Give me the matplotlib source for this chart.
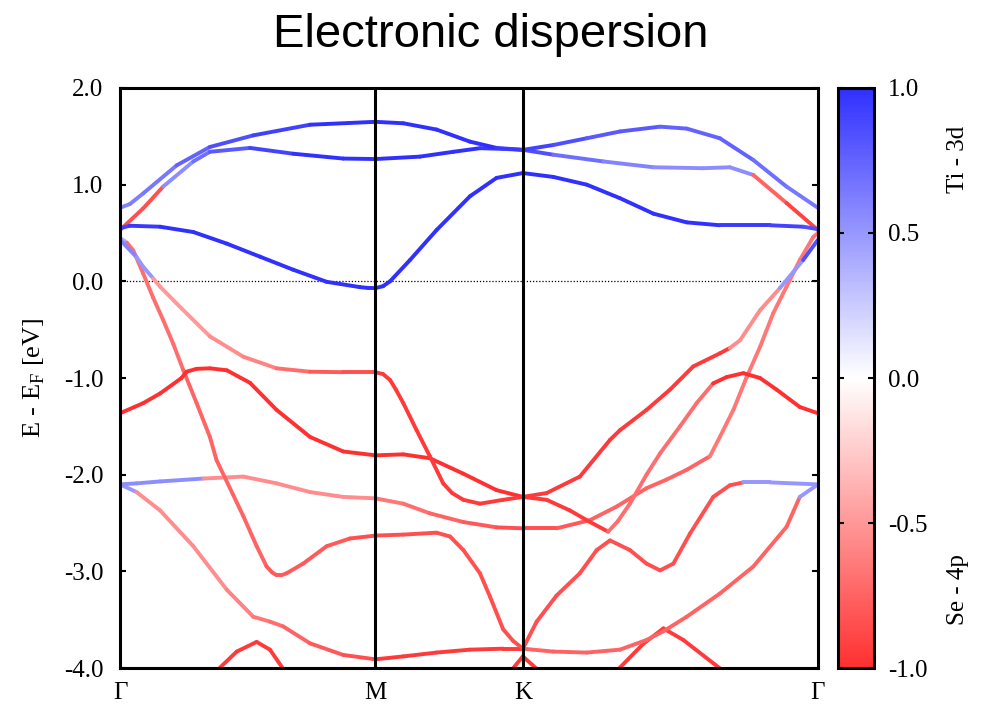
import numpy as np
import matplotlib
matplotlib.use("Agg")
import matplotlib.pyplot as plt
from matplotlib.collections import LineCollection
from matplotlib.colors import LinearSegmentedColormap, Normalize
from matplotlib.cm import ScalarMappable

# high-symmetry points along the path (Gamma-M has unit length)
sym_pos = [0.0, 1.0, 1.577, 2.732]
sym_lbl = ["Γ", "M", "K", "Γ"]

# band energies (eV, relative to E_F) and Ti-3d / Se-4p character (+1 / -1)
b1_k = [0, 0.039, 0.091, 0.222, 0.352, 0.522, 0.744, 1.0, 1.109, 1.239, 1.370, 1.474, 1.577,
        1.696, 1.827, 1.957, 2.114, 2.218, 2.348, 2.479, 2.609, 2.732]
b1_e = [0.76, 0.80, 0.91, 1.20, 1.39, 1.51, 1.62, 1.65, 1.635, 1.57, 1.445, 1.38, 1.36,
        1.41, 1.48, 1.55, 1.60, 1.58, 1.48, 1.255, 0.98, 0.76]
b1_w = [0.6, 0.62, 0.65, 0.75, 0.85, 0.92, 1.0, 1.0, 1.0, 1.0, 1.0, 0.95, 0.9,
        0.85, 0.8, 0.8, 0.75, 0.75, 0.75, 0.7, 0.65, 0.6]

b2_k = [0, 0.091, 0.169, 0.287, 0.352, 0.509, 0.678, 0.874, 1.0, 1.174, 1.305, 1.409, 1.500,
        1.577, 1.696, 1.892, 2.088, 2.283, 2.387, 2.479, 2.609, 2.732]
b2_e = [0.53, 0.755, 0.98, 1.24, 1.34, 1.38, 1.32, 1.27, 1.265, 1.29, 1.34, 1.377, 1.37,
        1.36, 1.31, 1.24, 1.18, 1.17, 1.18, 1.10, 0.81, 0.53]
b2_w = [-0.85, -0.85, 0.55, 0.7, 0.8, 0.9, 1.0, 1.0, 1.0, 1.0, 1.0, 0.95, 0.9,
        0.85, 0.7, 0.6, 0.55, 0.55, 0.55, -0.75, -0.9, -0.9]

b3_k = [0, 0.039, 0.157, 0.287, 0.418, 0.548, 0.678, 0.809, 0.939, 0.97, 1.0, 1.03, 1.057, 1.135,
        1.239, 1.370, 1.474, 1.577, 1.696, 1.827, 1.957, 2.088, 2.218, 2.348, 2.544, 2.674, 2.732]
b3_e = [0.55, 0.575, 0.565, 0.51, 0.39, 0.255, 0.12, -0.005, -0.06, -0.068, -0.07, -0.05, 0.0, 0.22,
        0.53, 0.88, 1.07, 1.12, 1.08, 1.0, 0.86, 0.70, 0.61, 0.58, 0.58, 0.565, 0.54]
b3_w = [0.9, 0.95, 1.0, 1.0, 1.0, 1.0, 1.0, 1.0, 1.0, 1.0, 1.0, 1.0, 1.0, 1.0,
        1.0, 1.0, 1.0, 1.0, 1.0, 1.0, 1.0, 1.0, 1.0, 0.95, 0.9, 0.85, 0.85]

b4_k = [0, 0.065, 0.091, 0.130, 0.157, 0.222, 0.352, 0.483, 0.613, 0.744, 0.874, 1.0, 1.03, 1.057,
        1.08, 1.109, 1.161, 1.213, 1.265, 1.30, 1.344, 1.409, 1.500, 1.577, 1.670, 1.800, 1.918,
        1.957, 2.061, 2.153, 2.244, 2.348, 2.387, 2.427, 2.505, 2.583, 2.674, 2.732]
b4_e = [0.43, 0.25, 0.15, 0.03, -0.055, -0.23, -0.57, -0.78, -0.90, -0.935, -0.94, -0.94, -0.96, -1.02,
        -1.12, -1.26, -1.54, -1.81, -2.09, -2.19, -2.26, -2.30, -2.26, -2.23, -2.19, -2.02, -1.64,
        -1.54, -1.33, -1.12, -0.88, -0.745, -0.69, -0.61, -0.30, -0.07, 0.22, 0.43]
b4_w = [0.6, 0.5, 0.5, -0.5, -0.5, -0.5, -0.55, -0.6, -0.7, -0.8, -0.85, -0.95, -0.95, -0.95,
        -0.95, -0.95, -0.95, -0.95, -0.95, -0.95, -0.95, -0.95, -0.95, -0.95, -0.95, -0.95, -0.95,
        -0.95, -0.95, -0.95, -0.95, -0.95, -0.55, -0.55, -0.55, 0.5, 0.85, 0.85]

b5_k = [0, 0.027, 0.052, 0.091, 0.130, 0.169, 0.209, 0.248, 0.300, 0.352, 0.378, 0.483, 0.535,
        0.574, 0.595, 0.613, 0.632, 0.652, 0.717, 0.809, 0.900, 1.0, 1.109, 1.239, 1.292, 1.344,
        1.409, 1.448, 1.500, 1.539, 1.577, 1.631, 1.709, 1.800, 1.866, 1.918, 1.996, 2.061,
        2.114, 2.166, 2.231, 2.322, 2.387, 2.440, 2.544, 2.727]
b5_e = [0.45, 0.40, 0.32, 0.08, -0.17, -0.40, -0.65, -0.92, -1.26, -1.61, -1.85, -2.43, -2.74,
        -2.95, -3.01, -3.04, -3.04, -3.02, -2.92, -2.74, -2.66, -2.63, -2.62, -2.60, -2.64, -2.78,
        -3.02, -3.26, -3.60, -3.72, -3.80, -3.52, -3.25, -3.02, -2.78, -2.68, -2.78, -2.92,
        -2.99, -2.92, -2.61, -2.23, -2.11, -2.08, -2.08, -2.10]
b5_w = [0.4, -0.7, -0.7, -0.7, -0.7, -0.7, -0.7, -0.75, -0.75, -0.75, -0.75, -0.75, -0.75,
        -0.8, -0.8, -0.8, -0.8, -0.8, -0.8, -0.8, -0.85, -0.85, -0.85, -0.85, -0.85, -0.85,
        -0.85, -0.85, -0.85, -0.85, -0.85, -0.85, -0.85, -0.85, -0.85, -0.85, -0.85, -0.85,
        -0.85, -0.85, -0.85, -0.85, -0.85, 0.5, 0.5, 0.5]

b6_k = [0, 0.091, 0.157, 0.241, 0.261, 0.300, 0.352, 0.418, 0.509, 0.613, 0.744, 0.874, 1.0, 1.109,
        1.213, 1.344, 1.474, 1.577, 1.670, 1.761, 1.840, 1.911, 1.949, 1.996, 2.061, 2.114,
        2.192, 2.257, 2.322, 2.375, 2.440, 2.505, 2.570, 2.661, 2.732]
b6_e = [-1.365, -1.26, -1.16, -1.00, -0.935, -0.905, -0.90, -0.92, -1.05, -1.33, -1.61, -1.76, -1.80, -1.79,
        -1.83, -1.99, -2.16, -2.23, -2.26, -2.37, -2.49, -2.59, -2.48, -2.30, -2.00, -1.78,
        -1.50, -1.26, -1.055, -0.99, -0.95, -1.00, -1.12, -1.30, -1.365]
b6_w = [-1.0, -1.0, -1.0, -1.0, -1.0, -1.0, -1.0, -1.0, -1.0, -1.0, -1.0, -1.0, -1.0, -1.0,
        -1.0, -1.0, -1.0, -0.95, -0.95, -0.95, -0.95, -0.7, -0.7, -0.7, -0.7, -0.7,
        -0.7, -0.7, -1.0, -1.0, -1.0, -1.0, -1.0, -1.0, -1.0]

b7_k = [0, 0.065, 0.157, 0.326, 0.483, 0.613, 0.744, 0.874, 1.0, 1.109, 1.213, 1.344, 1.474,
        1.577, 1.709, 1.840, 1.944, 2.061, 2.140, 2.218, 2.309, 2.348, 2.401, 2.453, 2.505,
        2.557, 2.609, 2.661, 2.714, 2.732]
b7_e = [-2.10, -2.09, -2.07, -2.04, -2.02, -2.09, -2.18, -2.23, -2.245, -2.30, -2.40, -2.49, -2.545,
        -2.555, -2.555, -2.47, -2.33, -2.14, -2.05, -1.95, -1.81, -1.61, -1.33, -0.99, -0.68,
        -0.33, -0.055, 0.22, 0.46, 0.50]
b7_w = [0.55, 0.55, 0.55, -0.55, -0.55, -0.55, -0.55, -0.55, -0.65, -0.7, -0.75, -0.8, -0.85,
        -0.85, -0.8, -0.75, -0.75, -0.75, -0.75, -0.75, -0.65, -0.65, -0.65, -0.65, -0.65,
        -0.65, -0.65, -0.65, -0.65, -0.65]

b8_k = [0, 0.065, 0.157, 0.287, 0.418, 0.522, 0.587, 0.639, 0.744, 0.874, 1.0, 1.109, 1.239,
        1.370, 1.500, 1.577, 1.696, 1.827, 1.957, 2.061, 2.127, 2.218, 2.348, 2.479, 2.609,
        2.661, 2.727]
b8_e = [-2.10, -2.18, -2.37, -2.74, -3.19, -3.47, -3.52, -3.57, -3.745, -3.865, -3.91, -3.88, -3.84,
        -3.81, -3.80, -3.80, -3.83, -3.84, -3.81, -3.71, -3.62, -3.47, -3.23, -2.95, -2.54,
        -2.23, -2.11]
b8_w = [0.5, -0.55, -0.55, -0.55, -0.6, -0.65, -0.7, -0.75, -0.8, -0.85, -0.95, -0.95, -0.95,
        -0.95, -0.95, -0.75, -0.75, -0.75, -0.75, -0.75, -0.75, -0.75, -0.75, -0.75, -0.75,
        0.5, 0.5]

# lower bands dipping in from below the window
b9_k = [0.366, 0.457, 0.535, 0.587, 0.652]
b9_e = [-4.06, -3.83, -3.73, -3.81, -4.06]
b9_w = [-0.95, -0.95, -0.95, -0.95, -0.95]

b10_k = [1.530, 1.577, 1.640]
b10_e = [-4.03, -3.88, -4.03]
b10_w = [-0.95, -0.95, -0.95]

b11_k = [1.944, 2.048, 2.127, 2.205, 2.361]
b11_e = [-4.03, -3.75, -3.59, -3.71, -4.03]
b11_w = [-0.95, -0.95, -0.95, -0.95, -0.95]

bands = [
    (b9_k, b9_e, b9_w), (b10_k, b10_e, b10_w), (b11_k, b11_e, b11_w),
    (b8_k, b8_e, b8_w), (b7_k, b7_e, b7_w), (b5_k, b5_e, b5_w), (b6_k, b6_e, b6_w),
    (b4_k, b4_e, b4_w), (b2_k, b2_e, b2_w), (b1_k, b1_e, b1_w), (b3_k, b3_e, b3_w),
]

plt.rcParams["font.family"] = "Liberation Serif"
plt.rcParams["mathtext.fontset"] = "custom"
plt.rcParams["mathtext.rm"] = "Liberation Serif"

cmap = LinearSegmentedColormap.from_list("pdos", ["#ff3030", "#ffffff", "#3030ff"])
norm = Normalize(-1.0, 1.0)

fig = plt.figure(figsize=(9.81, 7.09), dpi=100)
ax = fig.add_axes([0.1223, 0.0578, 0.7115, 0.8181])

for k, e, w in bands:
    assert len(k) == len(e) == len(w)
    pts = np.column_stack([k, e])
    segs = np.stack([pts[:-1], pts[1:]], axis=1)
    lc = LineCollection(segs, cmap=cmap, norm=norm, linewidths=2.8,
                        capstyle="round", joinstyle="round", zorder=2)
    # each segment takes the character of its starting point
    lc.set_array(np.asarray(w[:-1]))
    ax.add_collection(lc)

# Fermi level and high-symmetry lines
ax.axhline(0.0, color="black", lw=0.9, ls=(0, (1, 1.5)), zorder=1)
for x in sym_pos[1:-1]:
    ax.axvline(x, color="black", lw=2.2, zorder=3)

ax.set_xlim(sym_pos[0], sym_pos[-1])
ax.set_ylim(-4.0, 2.0)
ax.set_xticks(sym_pos)
ax.set_xticklabels(sym_lbl, fontsize=18)
ax.set_yticks(np.arange(-4, 2.1, 1.0))
ax.set_yticklabels(["%.1f" % v for v in np.arange(-4, 2.1, 1.0)], fontsize=18)
ax.tick_params(axis="x", length=0, pad=10)
ax.tick_params(axis="y", direction="in", length=4, width=1.5, left=True, right=True, pad=12)
for sp in ax.spines.values():
    sp.set_linewidth(2.2)
ax.set_ylabel("E - E$_\\mathrm{F}$ [eV]", fontsize=19, labelpad=12)

# colour scale for orbital character
cax = fig.add_axes([0.8542, 0.0578, 0.0367, 0.8181])
cb = fig.colorbar(ScalarMappable(norm=norm, cmap=cmap), cax=cax)
cb.set_ticks([-1.0, -0.5, 0.0, 0.5, 1.0])
cb.set_ticklabels(["-1.0", "-0.5", "0.0", "0.5", "1.0"])
cax.tick_params(direction="in", length=4, width=1.5, left=True, right=True, labelsize=18, pad=10)
cb.outline.set_linewidth(2.2)
fig.text(0.977, 0.775, "Ti - 3d", rotation=90, ha="center", va="center", fontsize=18)
fig.text(0.977, 0.168, "Se - 4p", rotation=90, ha="center", va="center", fontsize=18)

fig.text(0.5, 0.951, "Electronic dispersion", ha="center", va="center",
         fontsize=34, family="Liberation Sans")

fig.savefig("out.png", dpi=100)
